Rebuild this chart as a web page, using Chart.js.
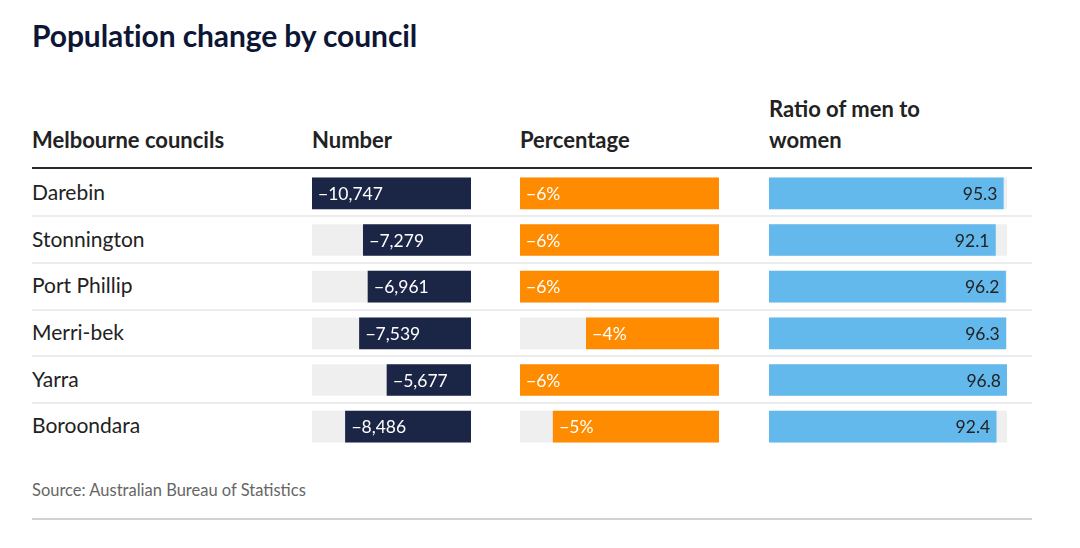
<!DOCTYPE html>
<html>
<head>
<meta charset="utf-8">
<script src="https://cdn.jsdelivr.net/npm/chart.js@4"></script>
<style>
  html, body { margin:0; padding:0; background:#fff; }
  body { width:1080px; height:548px; position:relative; overflow:hidden; font-family: Lato, "Noto Sans", sans-serif; }
  .abs { position:absolute; white-space:nowrap; }
  #title { left:32px; top:18px; font-size:30px; line-height:34px; font-weight:700; color:#0d1735; letter-spacing:-0.1px; }
  .hdr { top:93px; font-size:22px; line-height:31px; font-weight:700; color:#222; }
  .rule { left:32px; width:1000px; }
  .name { left:32px; font-size:21px; color:#222; line-height:46.67px; height:46.67px; }
  #source { left:32px; top:480px; font-size:16.5px; line-height:20px; color:#666; }
  canvas { display:block; }
  .cw { position:absolute; top:170px; height:280px; }
</style>
</head>
<body>
<div id="title" class="abs">Population change by council</div>
<div class="abs hdr" style="left:32px;top:124px;">Melbourne councils</div>
<div class="abs hdr" style="left:312px;top:124px;">Number</div>
<div class="abs hdr" style="left:520px;top:124px;">Percentage</div>
<div class="abs hdr" style="left:769px;">Ratio of men to<br>women</div>
<div class="abs rule" style="top:167px;height:2px;background:#2b2b2b;"></div>
<div id="names"></div>
<div id="seps"></div>
<div class="cw" style="left:312px;width:159px;"><canvas id="c1"></canvas></div>
<div class="cw" style="left:520px;width:199px;"><canvas id="c2"></canvas></div>
<div class="cw" style="left:769px;width:238px;"><canvas id="c3"></canvas></div>
<div id="source" class="abs">Source: Australian Bureau of Statistics</div>
<div class="abs rule" style="top:518px;height:1.5px;background:#cfd2d6;"></div>
<script>
const councils = ["Darebin", "Stonnington", "Port Phillip", "Merri-bek", "Yarra", "Boroondara"];
const numberChange = [-10747, -7279, -6961, -7539, -5677, -8486];
const percentChange = [-6, -6, -6, -4, -6, -5];
const ratioMenWomen = [95.3, 92.1, 96.2, 96.3, 96.8, 92.4];

const TOP = 170, ROW = 280 / councils.length;
const namesEl = document.getElementById('names');
const sepsEl = document.getElementById('seps');
councils.forEach((c, i) => {
  const d = document.createElement('div');
  d.className = 'abs name';
  d.style.top = (TOP + i * ROW - 1) + 'px';
  d.textContent = c;
  namesEl.appendChild(d);
  if (i > 0) {
    const s = document.createElement('div');
    s.className = 'abs rule';
    s.style.top = (TOP + i * ROW - 1.5) + 'px';
    s.style.height = '2px';
    s.style.background = '#ececec';
    sepsEl.appendChild(s);
  }
});

const labelPlugin = {
  id: 'valueLabels',
  afterDatasetsDraw(chart, args, opts) {
    const ctx = chart.ctx;
    const meta = chart.getDatasetMeta(0);
    ctx.save();
    ctx.font = '17.5px Lato, "Noto Sans", sans-serif';
    ctx.textBaseline = 'middle';
    ctx.fillStyle = opts.color;
    meta.data.forEach((el, i) => {
      const txt = opts.format(chart.data.datasets[0].data[i]);
      if (opts.align === 'left') {
        ctx.textAlign = 'left';
        ctx.fillText(txt, el.x + 6, el.y + 1);
      } else {
        ctx.textAlign = 'right';
        ctx.fillText(txt, el.x - 6, el.y + 1);
      }
    });
    ctx.restore();
  }
};

function makeChart(id, values, color, min, max, bgValue, labelOpts) {
  new Chart(document.getElementById(id), {
    type: 'bar',
    data: {
      labels: councils,
      datasets: [
        { data: values, backgroundColor: color, barThickness: 31, grouped: false, order: 1, borderWidth: 0 },
        { data: councils.map(() => bgValue), backgroundColor: '#efefef', barThickness: 31, grouped: false, order: 2, borderWidth: 0 }
      ]
    },
    options: {
      indexAxis: 'y',
      responsive: true,
      maintainAspectRatio: false,
      animation: false,
      layout: { padding: 0 },
      scales: {
        x: { display: false, min: min, max: max },
        y: { display: false, offset: true }
      },
      plugins: { legend: { display: false }, tooltip: { enabled: false }, valueLabels: labelOpts }
    },
    plugins: [labelPlugin]
  });
}

const fmtNum = v => '\u2212' + Math.abs(v).toLocaleString('en-US');
const fmtPct = v => '\u2212' + Math.abs(v) + '%';
const fmtRatio = v => v.toFixed(1);

const nMin = Math.min(...numberChange);
const pMin = Math.min(...percentChange);
const rMax = Math.max(...ratioMenWomen);

makeChart('c1', numberChange, '#1b2546', nMin, 0, nMin, { align: 'left', color: '#ffffff', format: fmtNum });
makeChart('c2', percentChange, '#ff8c00', pMin, 0, pMin, { align: 'left', color: '#ffffff', format: fmtPct });
makeChart('c3', ratioMenWomen, '#63b8ec', 0, rMax, rMax, { align: 'right', color: '#222222', format: fmtRatio });
</script>
</body>
</html>
